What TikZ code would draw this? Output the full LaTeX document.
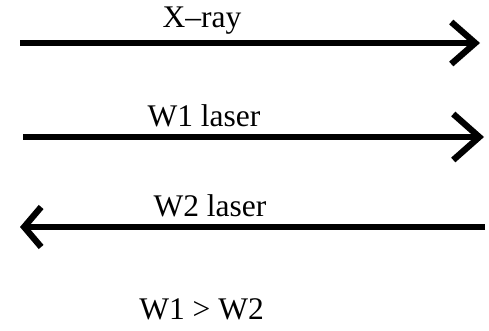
\documentclass[tikz,border=0pt]{standalone}
\usepackage{fontspec}
\setmainfont{Liberation Serif}
\usetikzlibrary{arrows.meta}
\begin{document}
\begin{tikzpicture}[x=1pt,y=1pt,
  lbl/.style={anchor=base,inner sep=0pt,font=\fontsize{31.5}{36}\selectfont},
  ray/.style={line width=6.3pt}]
\useasboundingbox (0,0) rectangle (489,331);
\coordinate (a1) at (20,288);
\coordinate (b1) at (480,288);
\coordinate (a2) at (23,194);
\coordinate (b2) at (484,194);
\coordinate (a3) at (485,104);
\coordinate (b3) at (20,104);
\draw[ray,-{Straight Barb[length=24pt,width=42pt,line width=6.3pt,line cap=butt,line join=miter]}] (a1) -- (b1);
\draw[ray,-{Straight Barb[length=26pt,width=46pt,line width=6.3pt,line cap=butt,line join=miter]}] (a2) -- (b2);
\draw[ray,-{Straight Barb[length=17pt,width=40pt,line width=6.3pt,line cap=butt,line join=miter]}] (a3) -- (b3);
\node[lbl] (t1) at (202,303) {X–ray};
\node[lbl] (t2) at (204,204) {W1 laser};
\node[lbl] (t3) at (210,114) {W2 laser};
\node[lbl] (t4) at (201.5,11) {W1 > W2};
\end{tikzpicture}
\end{document}
